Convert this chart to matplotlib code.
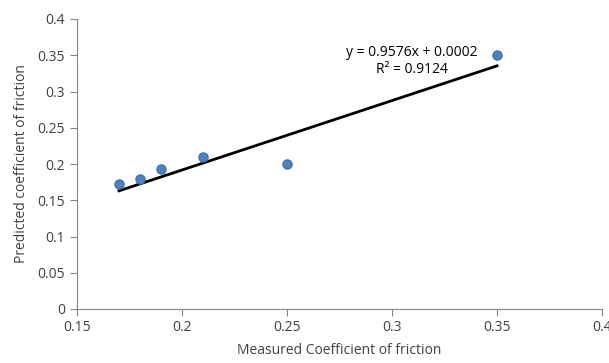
import matplotlib.pyplot as plt
import numpy as np

plt.rcParams['font.family'] = ['Open Sans', 'DejaVu Sans']

measured = [0.17, 0.18, 0.19, 0.21, 0.25, 0.35]
predicted = [0.173, 0.180, 0.193, 0.210, 0.200, 0.350]
slope = 0.9576
intercept = 0.0002
r2 = 0.9124

fig = plt.figure(figsize=(6.09, 3.63), dpi=100)
ax = fig.add_axes([77 / 609, 54 / 363, 525 / 609, 290 / 363])

xs = np.array([min(measured), max(measured)])
ax.plot(xs, slope * xs + intercept, color='black', linewidth=2, zorder=2)
ax.scatter(measured, predicted, s=45, color='#4F81BD', edgecolors='#3A6EA8',
           linewidths=0.8, zorder=3)

ax.text(0.3095, 0.354, 'y = %.4fx + %.4f' % (slope, intercept), fontsize=10,
        ha='center', va='center')
ax.text(0.3095, 0.330, 'R² = %.4f' % r2, fontsize=10, ha='center', va='center')

ax.set_xlim(0.15, 0.4)
ax.set_ylim(0, 0.4)
ax.set_xticks([0.15, 0.2, 0.25, 0.3, 0.35, 0.4])
ax.set_xticklabels(['0.15', '0.2', '0.25', '0.3', '0.35', '0.4'])
ax.set_yticks([0, 0.05, 0.1, 0.15, 0.2, 0.25, 0.3, 0.35, 0.4])
ax.set_yticklabels(['0', '0.05', '0.1', '0.15', '0.2', '0.25', '0.3', '0.35', '0.4'])

for side in ['top', 'right']:
    ax.spines[side].set_visible(False)
for side in ['left', 'bottom']:
    ax.spines[side].set_color('#868686')
ax.tick_params(direction='out', length=5, color='#868686', labelsize=10,
               labelcolor='#404040')
ax.tick_params(axis='x', pad=3)

ax.set_xlabel('Measured Coefficient of friction', fontsize=10, color='#404040',
              labelpad=6)
ax.set_ylabel('Predicted coefficient of friction', fontsize=10, color='#404040',
              labelpad=6)

fig.savefig('out.png', dpi=100)
